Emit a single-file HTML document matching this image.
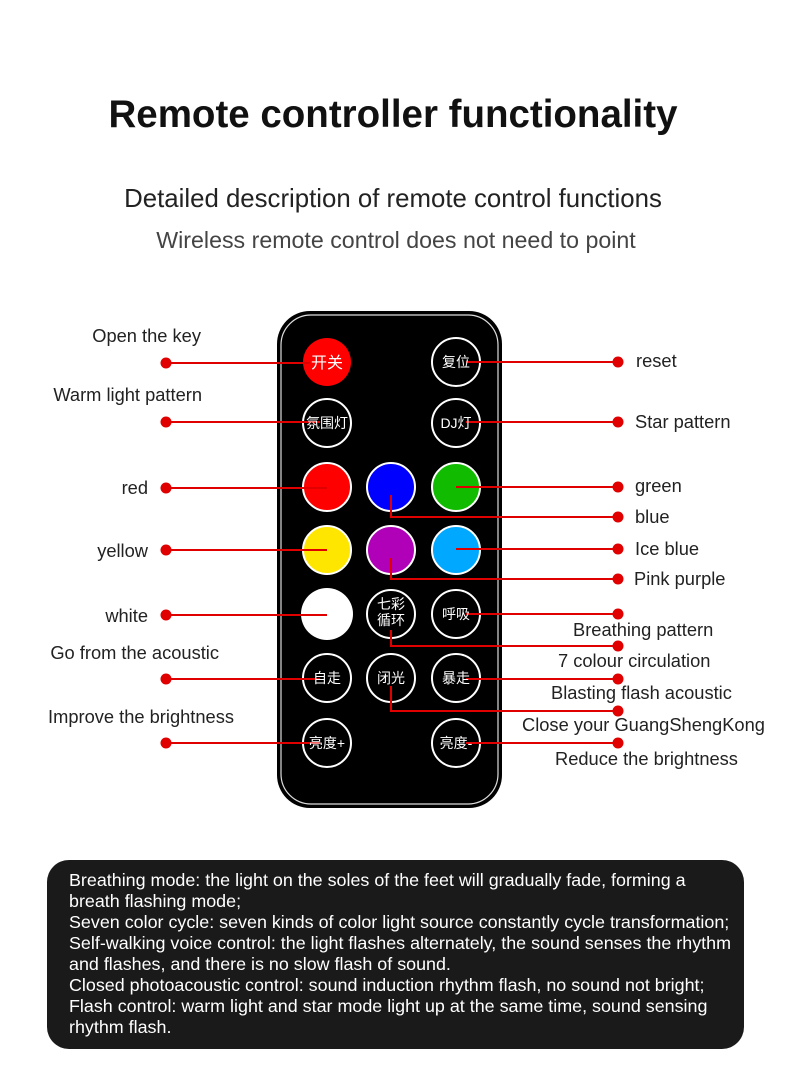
<!DOCTYPE html>
<html><head><meta charset="utf-8"><style>
body{margin:0;background:#fff;width:790px;height:1087px;position:relative;overflow:hidden;font-family:"Liberation Sans",sans-serif}
svg{position:absolute;left:0;top:0}
.box{position:absolute;left:47px;top:860px;width:697px;height:189px;background:#1a1a1a;border-radius:22px;box-sizing:border-box;padding:10px 0 0 22px;color:#fff;font-size:17.9px;line-height:21px;white-space:nowrap}
</style></head><body>
<svg width="790" height="1087" xmlns="http://www.w3.org/2000/svg" font-family="Liberation Sans, Noto Sans CJK SC, sans-serif">
<text x="393" y="127" text-anchor="middle" font-size="38.5" font-weight="bold" fill="#111">Remote controller functionality</text>
<text x="393" y="207" text-anchor="middle" font-size="25.8" fill="#222">Detailed description of remote control functions</text>
<text x="396" y="248" text-anchor="middle" font-size="23.2" fill="#444">Wireless remote control does not need to point</text>
<rect x="277" y="311" width="225" height="497" rx="33" fill="#000"/>
<rect x="281" y="315" width="217" height="489" rx="30" fill="none" stroke="#ddd" stroke-width="1.2"/>
<g stroke="#fff" stroke-width="2">
<circle cx="327" cy="362" r="24" fill="#ff0000" stroke="none"/>
<circle cx="456" cy="362" r="24" fill="none"/>
<circle cx="327" cy="423" r="24" fill="none"/>
<circle cx="456" cy="423" r="24" fill="none"/>
<circle cx="327" cy="487" r="24" fill="#ff0000"/>
<circle cx="391" cy="487" r="24" fill="#0000ff"/>
<circle cx="456" cy="487" r="24" fill="#11bb00"/>
<circle cx="327" cy="550" r="24" fill="#ffe600"/>
<circle cx="391" cy="550" r="24" fill="#b000b8"/>
<circle cx="456" cy="550" r="24" fill="#00a8ff"/>
<circle cx="327" cy="614" r="26" fill="#fff" stroke="none"/>
<circle cx="391" cy="614" r="24" fill="none"/>
<circle cx="456" cy="614" r="24" fill="none"/>
<circle cx="327" cy="678" r="24" fill="none"/>
<circle cx="391" cy="678" r="24" fill="none"/>
<circle cx="456" cy="678" r="24" fill="none"/>
<circle cx="327" cy="743" r="24" fill="none"/>
<circle cx="456" cy="743" r="24" fill="none"/>
</g>
<g stroke="#e00000" stroke-width="2" fill="none">
<path d="M166 363H310M166 422H320M166 488H327M166 550H327M166 615H327M166 679H320M166 743H320"/>
<path d="M466 362H618M466 422H618M456 487H618M456 549H618M466 614H618M466 679H618M466 743H618"/>
<path d="M391 495V517H618M391 558V579H618M391 630V646H618M391 686V711H618"/>
</g>
<g fill="#fff" font-size="14" text-anchor="middle">
<text x="327" y="368" font-size="16">开关</text>
<text x="456" y="367">复位</text>
<text x="327" y="428">氛围灯</text>
<text x="456" y="428">DJ灯</text>
<text x="391" y="609">七彩</text>
<text x="391" y="625">循环</text>
<text x="456" y="619">呼吸</text>
<text x="327" y="683">自走</text>
<text x="391" y="683">闭光</text>
<text x="456" y="683">暴走</text>
<text x="327" y="748">亮度+</text>
<text x="456" y="748">亮度-</text>
</g>
<g fill="#e00000">
<circle cx="166" cy="363" r="5.5"/><circle cx="166" cy="422" r="5.5"/><circle cx="166" cy="488" r="5.5"/><circle cx="166" cy="550" r="5.5"/><circle cx="166" cy="615" r="5.5"/><circle cx="166" cy="679" r="5.5"/><circle cx="166" cy="743" r="5.5"/>
<circle cx="618" cy="362" r="5.5"/><circle cx="618" cy="422" r="5.5"/><circle cx="618" cy="487" r="5.5"/><circle cx="618" cy="517" r="5.5"/><circle cx="618" cy="549" r="5.5"/><circle cx="618" cy="579" r="5.5"/><circle cx="618" cy="614" r="5.5"/><circle cx="618" cy="646" r="5.5"/><circle cx="618" cy="679" r="5.5"/><circle cx="618" cy="711" r="5.5"/><circle cx="618" cy="743" r="5.5"/>
</g>
<g font-size="18.3" fill="#222">
<text x="201" y="342" text-anchor="end">Open the key</text>
<text x="202" y="401" text-anchor="end">Warm light pattern</text>
<text x="148" y="494" text-anchor="end">red</text>
<text x="148" y="557" text-anchor="end">yellow</text>
<text x="148" y="622" text-anchor="end">white</text>
<text x="219" y="659" text-anchor="end">Go from the acoustic</text>
<text x="234" y="723" text-anchor="end">Improve the brightness</text>
<text x="636" y="367">reset</text>
<text x="635" y="428">Star pattern</text>
<text x="635" y="492">green</text>
<text x="635" y="523">blue</text>
<text x="635" y="555">Ice blue</text>
<text x="634" y="585">Pink purple</text>
<text x="573" y="636">Breathing pattern</text>
<text x="558" y="667">7 colour circulation</text>
<text x="551" y="699">Blasting flash acoustic</text>
<text x="522" y="731">Close your GuangShengKong</text>
<text x="555" y="765">Reduce the brightness</text>
</g>
</svg>
<div class="box">Breathing mode: the light on the soles of the feet will gradually fade, forming a<br>breath flashing mode;<br>Seven color cycle: seven kinds of color light source constantly cycle transformation;<br>Self-walking voice control: the light flashes alternately, the sound senses the rhythm<br>and flashes, and there is no slow flash of sound.<br>Closed photoacoustic control: sound induction rhythm flash, no sound not bright;<br>Flash control: warm light and star mode light up at the same time, sound sensing<br>rhythm flash.</div>
</body></html>
